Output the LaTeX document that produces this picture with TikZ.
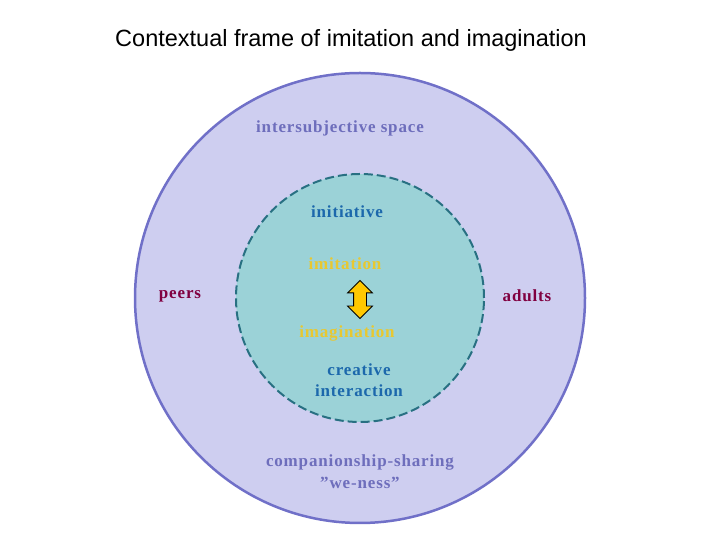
\documentclass[tikz,border=0pt]{standalone}
\usepackage{fontspec}
\setmainfont{Liberation Serif}
\setsansfont{Liberation Sans}
\newfontfamily\labelfont[LetterSpace=5]{Liberation Serif}
\usetikzlibrary{shapes,arrows,positioning,calc}

\definecolor{outerfill}{RGB}{206,206,240}
\definecolor{outerline}{RGB}{112,112,200}
\definecolor{innerfill}{RGB}{155,210,215}
\definecolor{innerline}{RGB}{40,112,130}
\definecolor{spacetext}{RGB}{110,110,188}
\definecolor{bluetext}{RGB}{28,104,172}
\definecolor{yellowtext}{RGB}{232,200,48}
\definecolor{persontext}{RGB}{128,0,64}
\definecolor{arrowfill}{RGB}{255,200,0}

\tikzset{
    label text/.style={font=\labelfont\fontsize{17}{21}\selectfont\bfseries, align=center, inner sep=0pt},
    person/.style={label text, text=persontext}
}

\begin{document}
\begin{tikzpicture}[x=1pt, y=1pt]
    \useasboundingbox (0,0) rectangle (720,540);

    % Title
    \node[font=\sffamily\fontsize{23.5}{28}\selectfont] (title) at (351,500) {Contextual frame of imitation and imagination};

    % Circles
    \node[circle, minimum size=450pt, fill=outerfill, draw=outerline, line width=2.5pt] (outer) at (360,242) {};
    \node[circle, minimum size=248pt, fill=innerfill, draw=innerline, line width=2pt, dash pattern=on 9pt off 4pt] (inner) at (360,242) {};

    % Labels
    \node[label text, text=spacetext] (space) at (340,412) {intersubjective space};
    \node[label text, text=bluetext] (initiative) at (347,328) {initiative};
    \node[label text, text=yellowtext] (imitation) at (345,276) {imitation};
    \node[label text, text=yellowtext] (imagination) at (347,207) {imagination};
    \node[label text, text=bluetext] (creative) at (359,160) {creative\\interaction};
    \node[label text, text=spacetext, font=\labelfont\fontsize{17}{22}\selectfont\bfseries] (sharing) at (360,68) {companionship-sharing\\”we-ness”};

    \node[person] (peers) at (180,244) {peers};
    \node[person] (adults) at (527,244) {adults};

    % Double arrow between imitation and imagination
    \node[double arrow, shape border rotate=90, fill=arrowfill, draw=black, line width=0.8pt,
          minimum width=24pt, minimum height=38pt, double arrow head extend=6pt,
          inner sep=6pt] (swap) at (360,240.5) {};
\end{tikzpicture}
\end{document}
